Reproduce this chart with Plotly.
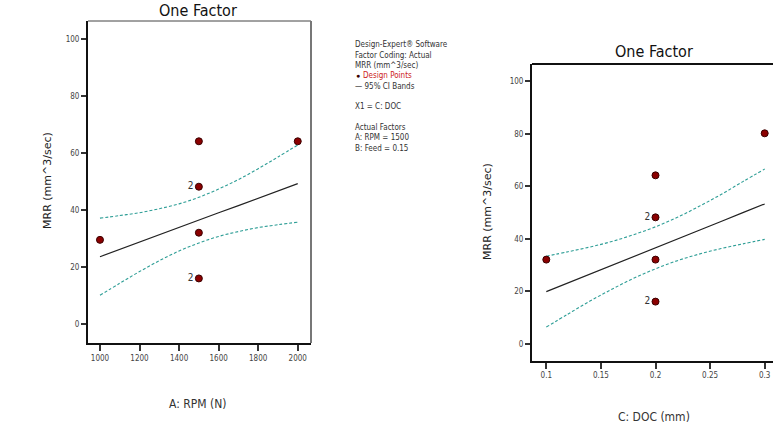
import plotly.graph_objects as go

W, H = 773, 430

# ---- Left panel data (A: RPM) ----
rpm_pts_x = [1000, 1500, 1500, 1500, 1500, 2000]
rpm_pts_y = [29.6, 64.1, 48.2, 32.1, 16.1, 64.1]
rpm_pts_lbl = ["", "", "2", "", "2", ""]
rpm_curve_x = [1000, 1100, 1200, 1300, 1400, 1500, 1600, 1700, 1800, 1900, 2000]
rpm_fit = [23.7, 26.3, 28.8, 31.4, 33.9, 36.5, 39.1, 41.6, 44.2, 46.7, 49.3]
rpm_upper = [37.2, 38.1, 39.1, 40.5, 42.2, 44.5, 47.4, 50.7, 54.5, 58.6, 62.8]
rpm_lower = [10.2, 14.4, 18.5, 22.3, 25.7, 28.5, 30.8, 32.5, 33.9, 34.9, 35.8]

# ---- Right panel data (C: DOC) ----
doc_pts_x = [0.1, 0.2, 0.2, 0.2, 0.2, 0.3]
doc_pts_y = [32.1, 64.2, 48.2, 32.1, 16.1, 80.2]
doc_pts_lbl = ["", "", "2", "", "2", ""]
doc_curve_x = [0.10, 0.12, 0.14, 0.16, 0.18, 0.20, 0.22, 0.24, 0.26, 0.28, 0.30]
doc_fit = [19.9, 23.2, 26.6, 29.9, 33.3, 36.6, 39.9, 43.3, 46.6, 50.0, 53.3]
doc_upper = [33.4, 35.1, 36.9, 39.0, 41.6, 44.6, 48.2, 52.4, 56.9, 61.8, 66.6]
doc_lower = [6.4, 11.4, 16.3, 20.8, 25.0, 28.6, 31.7, 34.2, 36.3, 38.1, 39.8]

y_ticks = [0, 20, 40, 60, 80, 100]
rpm_ticks = [1000, 1200, 1400, 1600, 1800, 2000]
doc_ticks = [0.1, 0.15, 0.2, 0.25, 0.3]
doc_tick_text = ["0.1", "0.15", "0.2", "0.25", "0.3"]

legend_lines = [
    "Design-Expert\u00ae Software",
    "Factor Coding: Actual",
    "MRR (mm^3/sec)",
    "\u25cf Design Points",
    "\u2014 95% CI Bands",
    "",
    "X1 = C: DOC",
    "",
    "Actual Factors",
    "A: RPM = 1500",
    "B: Feed = 0.15",
]

FONT = "Liberation Sans Narrow, DejaVu Sans Condensed, Liberation Sans"
PT_COLOR = "#8B0000"
CI_COLOR = "#2E9E96"

fig = go.Figure()

def add_panel(xa, ya, cx, fit, up, lo, px, py, lbl):
    fig.add_trace(go.Scatter(x=cx, y=up, mode="lines", xaxis=xa, yaxis=ya,
                             line=dict(color=CI_COLOR, width=1.1, dash="3px,2px"),
                             line_shape="spline", showlegend=False, hoverinfo="skip"))
    fig.add_trace(go.Scatter(x=cx, y=lo, mode="lines", xaxis=xa, yaxis=ya,
                             line=dict(color=CI_COLOR, width=1.1, dash="3px,2px"),
                             line_shape="spline", showlegend=False, hoverinfo="skip"))
    fig.add_trace(go.Scatter(x=cx, y=fit, mode="lines", xaxis=xa, yaxis=ya,
                             line=dict(color="#222222", width=1.2),
                             showlegend=False, hoverinfo="skip"))
    fig.add_trace(go.Scatter(x=px, y=py, mode="markers+text", xaxis=xa, yaxis=ya,
                             text=lbl, textposition="middle left",
                             textfont=dict(family=FONT, size=10, color="#333333"),
                             marker=dict(size=7, color=PT_COLOR,
                                         line=dict(color="#3a0000", width=1)),
                             showlegend=False))

add_panel("x", "y", rpm_curve_x, rpm_fit, rpm_upper, rpm_lower,
          rpm_pts_x, rpm_pts_y, rpm_pts_lbl)
add_panel("x2", "y2", doc_curve_x, doc_fit, doc_upper, doc_lower,
          doc_pts_x, doc_pts_y, doc_pts_lbl)

tickfont = dict(family=FONT, size=8, color="#444444")
axis_common = dict(showgrid=False, zeroline=False, showline=True, linecolor="#111111",
                   linewidth=2, ticks="outside", tickcolor="#333333", tickwidth=1.5,
                   tickfont=tickfont, mirror=False)

fig.update_layout(
    width=W, height=H,
    margin=dict(l=0, r=0, t=0, b=0),
    paper_bgcolor="white", plot_bgcolor="white",
    xaxis=dict(domain=[88 / W, 311 / W], range=[939.5, 2067], tickvals=rpm_ticks,
               ticklen=6, anchor="y", **axis_common),
    yaxis=dict(domain=[1 - 343 / H, 1 - 21 / H], range=[-6.5, 106.2], tickvals=y_ticks,
               ticklen=5, anchor="x", **axis_common),
    xaxis2=dict(domain=[532 / W, 1.0], range=[0.0869, 0.3076], tickvals=doc_ticks,
                ticktext=doc_tick_text, ticklen=6, anchor="y2", **axis_common),
    yaxis2=dict(domain=[1 - 360.7 / H, 1 - 64 / H], range=[-6.4, 106.6], tickvals=y_ticks,
                ticklen=5, anchor="x2", **axis_common),
)

# frame lines (top and right)
fig.add_shape(type="line", xref="x domain", yref="y domain", x0=0, x1=1, y0=1, y1=1,
              line=dict(color="#444444", width=1))
fig.add_shape(type="line", xref="x domain", yref="y domain", x0=1, x1=1, y0=0, y1=1,
              line=dict(color="#777777", width=2))
fig.add_shape(type="line", xref="x2 domain", yref="y2 domain", x0=0, x1=1, y0=1, y1=1,
              line=dict(color="#111111", width=2))

def ann(text, x, y, size, color="#333333", angle=0, xanchor="center", family=FONT):
    fig.add_annotation(text=text, x=x / W, y=1 - y / H, xref="paper", yref="paper",
                       showarrow=False, textangle=angle, xanchor=xanchor, yanchor="middle",
                       font=dict(family=family, size=size, color=color))

# titles
ann("One Factor", 198, 10, 16, "#111111")
ann("One Factor", 654, 52, 16, "#111111")
# axis titles
ann("A: RPM (N)", 198, 404, 12, "#333333")
ann("C: DOC (mm)", 654, 417, 12, "#333333")
ann("MRR (mm^3/sec)", 47, 181, 11, "#222222", angle=-90, family="DejaVu Sans")
ann("MRR (mm^3/sec)", 487, 211, 11, "#222222", angle=-90, family="DejaVu Sans")

# info text block
y0 = 45
for i, line in enumerate(legend_lines):
    if not line:
        continue
    color = "#cc2222" if "Design Points" in line else "#333333"
    if line.startswith("\u25cf"):
        fig.add_annotation(text="\u25cf", x=354 / W, y=1 - (y0 + i * 10.3) / H,
                           xref="paper", yref="paper", showarrow=False, xanchor="left",
                           yanchor="middle", font=dict(family="Liberation Sans", size=7,
                                                       color="#3a0000"))
        ann(line[2:], 361, y0 + i * 10.3, 8, color, xanchor="left")
    else:
        ann(line, 353, y0 + i * 10.3, 8, color, xanchor="left")

fig.write_html("out.html")
